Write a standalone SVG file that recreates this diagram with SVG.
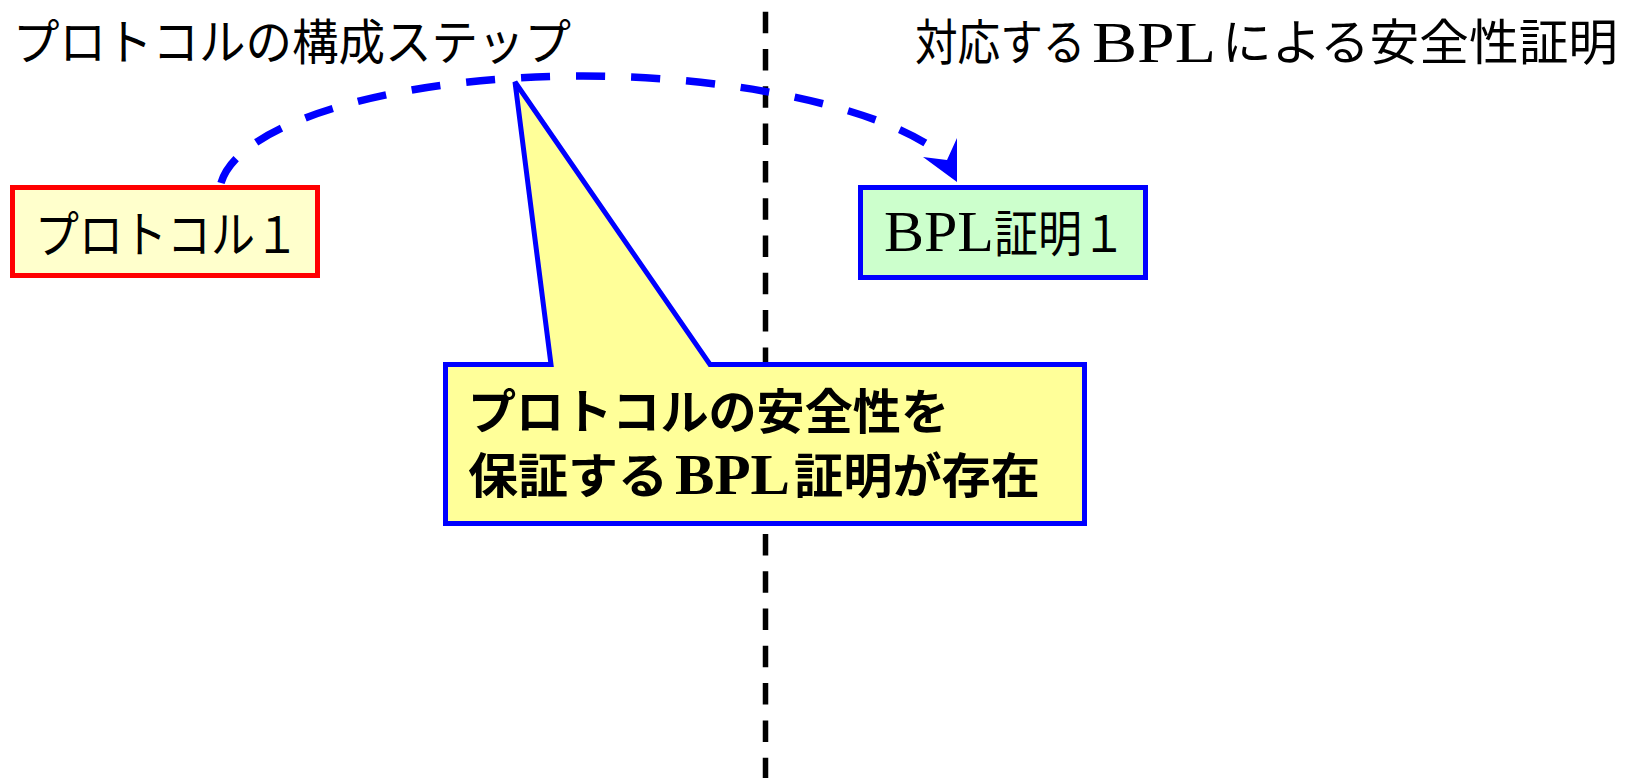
<svg xmlns="http://www.w3.org/2000/svg" width="1627" height="778" viewBox="0 0 1627 778">
<style>
.jp{font-family:"Noto Sans CJK JP","Noto Sans",sans-serif;fill:#000}
.b{font-weight:bold}
.ser{font-family:"Liberation Serif","Noto Sans CJK JP",serif}
.edge{fill:none;stroke:#0000FF;stroke-width:7.5;stroke-dasharray:29 26}
</style>
<rect width="1627" height="778" fill="#FFFFFF"/>
<g id="title-left">
<text class="jp" x="13" y="60" font-size="49" textLength="558" lengthAdjust="spacingAndGlyphs">プロトコルの構成ステップ</text>
</g>
<g id="title-right">
<text class="jp" transform="translate(915,60) scale(0.87,1)" x="0" y="0" font-size="49">対応する</text>
<text class="ser" x="1092" y="62" font-size="58" textLength="124" lengthAdjust="spacingAndGlyphs">BPL</text>
<text class="jp" x="1222" y="60" font-size="49" textLength="396" lengthAdjust="spacingAndGlyphs">による安全性証明</text>
</g>
<g id="divider">
<line x1="765.5" y1="11.7" x2="765.5" y2="778" stroke="#000000" stroke-width="5.5" stroke-dasharray="21.5 15.8"/>
</g>
<g id="node-protocol1">
<rect x="12.5" y="187.5" width="305" height="88" fill="#FFFFCC" stroke="#FF0000" stroke-width="5"/>
<text class="jp" x="35" y="253" font-size="50" textLength="264" lengthAdjust="spacingAndGlyphs">プロトコル１</text>
</g>
<g id="node-bpl1">
<rect x="860.5" y="187.5" width="285" height="90" fill="#CCFFCC" stroke="#0000FF" stroke-width="5"/>
<text class="jp" y="251" font-size="50"><tspan class="ser" x="884" font-size="57" textLength="110" lengthAdjust="spacingAndGlyphs">BPL</tspan><tspan x="994" y="252" textLength="132" lengthAdjust="spacingAndGlyphs">証明１</tspan></text>
</g>
<g id="connectors">
<path class="edge" d="M221,183 C240,120 403,76 583,76 C733,76 880,107 940,153"/>
<polygon points="957,138 957,182 923,157 947,160" fill="#0000FF"/>
</g>
<g id="callout">
<path d="M445.5,364.5 H551 L515,82 L710,364.5 H1084.5 V523.5 H445.5 Z" fill="#FFFF99" stroke="#0000FF" stroke-width="5"/>
<text class="jp b" x="468" y="429" font-size="48" textLength="481" lengthAdjust="spacingAndGlyphs">プロトコルの安全性を</text>
<text class="jp b" y="493" font-size="48"><tspan x="468" textLength="200" lengthAdjust="spacingAndGlyphs">保証する</tspan><tspan class="ser" x="675" y="494" font-size="56" textLength="115" lengthAdjust="spacingAndGlyphs">BPL</tspan><tspan x="794" y="493" textLength="246" lengthAdjust="spacingAndGlyphs">証明が存在</tspan></text>
</g>
</svg>
